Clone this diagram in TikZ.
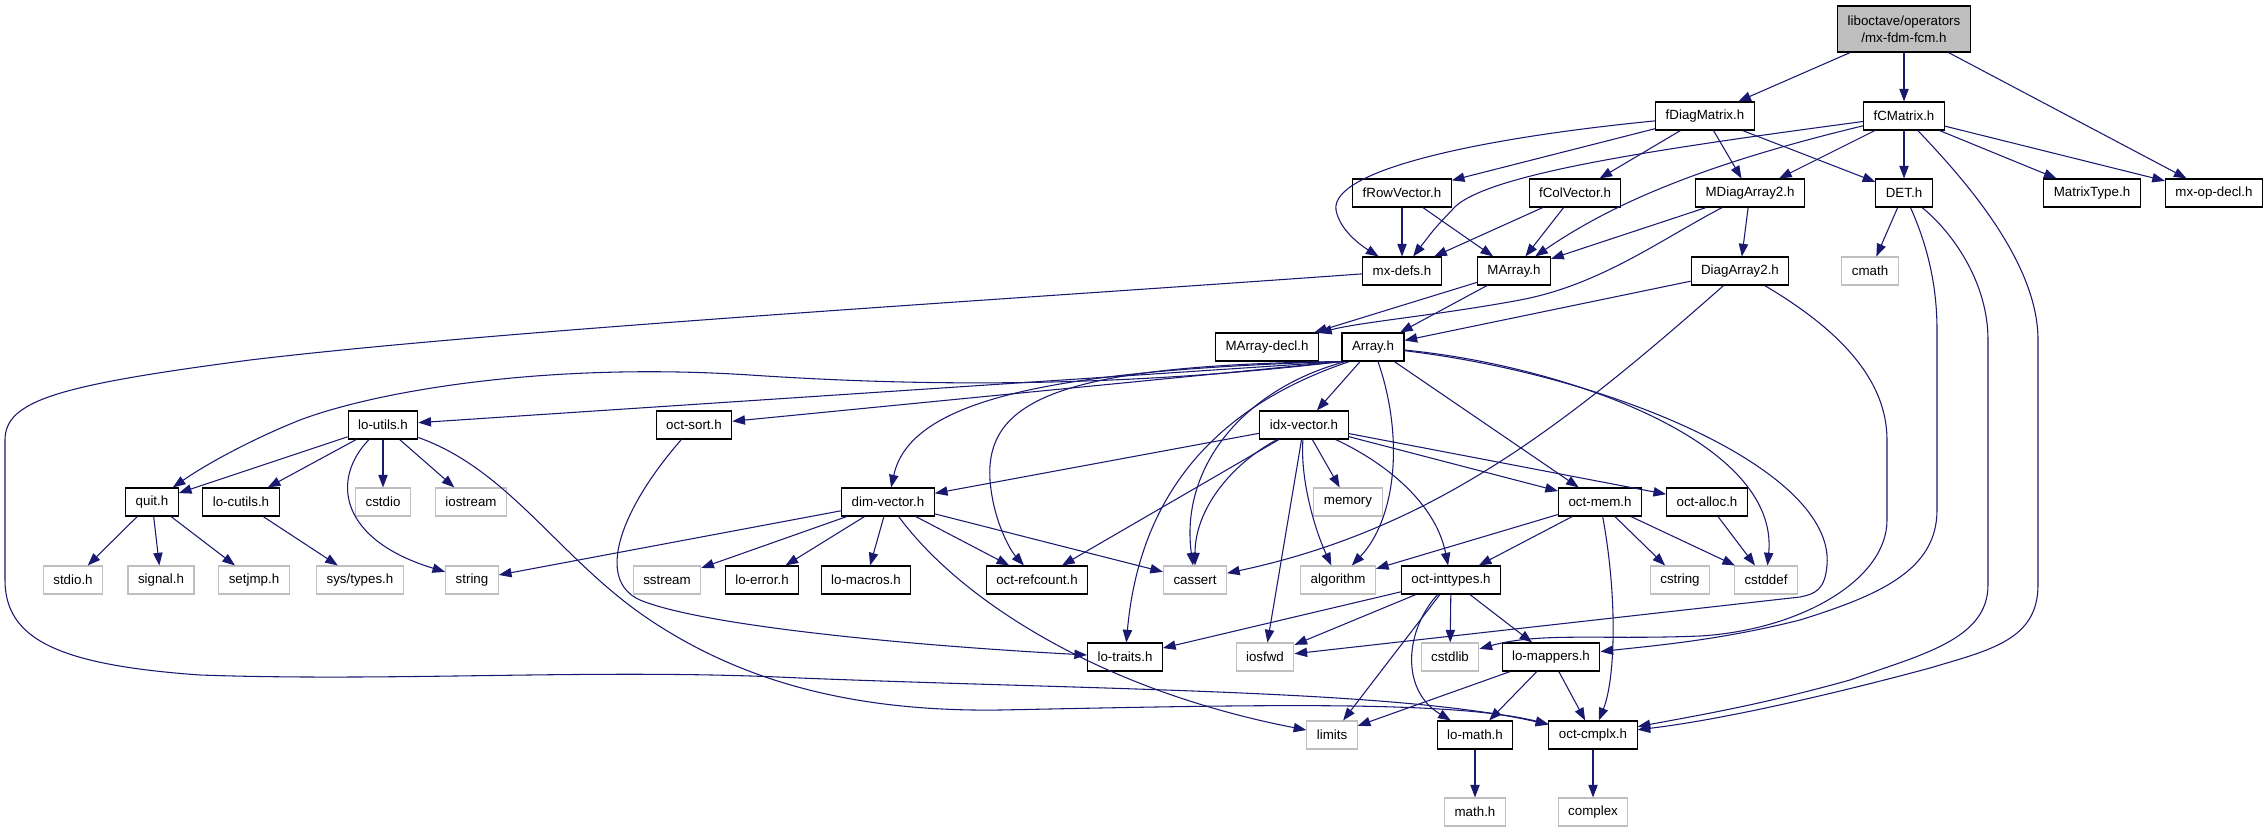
\documentclass[tikz,border=0pt]{standalone}
\usepackage{fontspec}
\setmainfont{Liberation Sans}
\usetikzlibrary{arrows.meta}
\definecolor{edgec}{HTML}{191970}
\definecolor{greyc}{HTML}{BFBFBF}
\begin{document}
\begin{tikzpicture}[x=0.75pt,y=-0.75pt,
  box/.style={draw=black, line width=0.8pt, fill=white, inner xsep=7.5pt, inner ysep=0pt,
    minimum height=21pt, font=\fontsize{10pt}{12.5pt}\selectfont},
  sys/.style={box, draw=greyc},
  e/.style={draw=edgec, line width=0.8pt, -{Triangle[length=9.5pt,width=7pt]}}]
\useasboundingbox (0,0) rectangle (2267,832);
% ---- nodes ----
\node[box, fill=greyc, align=center, minimum height=34.5pt] (root) at (1904,29) {liboctave/operators\\/mx-fdm-fcm.h};
\node[box] (fDiagMatrix) at (1705,116) {fDiagMatrix.h};
\node[box] (fCMatrix) at (1904,116) {fCMatrix.h};
\node[box] (fRowVector) at (1402,193) {fRowVector.h};
\node[box] (fColVector) at (1575,193) {fColVector.h};
\node[box] (MDiagArray2) at (1750,193) {MDiagArray2.h};
\node[box] (DET) at (1904,193) {DET.h};
\node[box] (MatrixType) at (2092,193) {MatrixType.h};
\node[box] (mxopdecl) at (2214,193) {mx-op-decl.h};
\node[box] (mxdefs) at (1402,271) {mx-defs.h};
\node[box] (MArray) at (1514,271) {MArray.h};
\node[box] (DiagArray2) at (1740,271) {DiagArray2.h};
\node[sys] (cmath) at (1870,271) {cmath};
\node[box] (MArraydecl) at (1267,347) {MArray-decl.h};
\node[box] (Array) at (1373,347) {Array.h};
\node[box] (loutils) at (383,425) {lo-utils.h};
\node[box] (octsort) at (694,425) {oct-sort.h};
\node[box] (idxvector) at (1304,425) {idx-vector.h};
\node[box] (quit) at (152,502) {quit.h};
\node[box] (locutils) at (241,502) {lo-cutils.h};
\node[sys] (cstdio) at (383,502) {cstdio};
\node[sys] (iostream) at (471,502) {iostream};
\node[box] (dimvector) at (888,502) {dim-vector.h};
\node[sys] (memory) at (1348,502) {memory};
\node[box] (octmem) at (1600,502) {oct-mem.h};
\node[box] (octalloc) at (1707,502) {oct-alloc.h};
\node[sys] (stdio) at (73,580) {stdio.h};
\node[sys] (signal) at (161,580) {signal.h};
\node[sys] (setjmp) at (254,580) {setjmp.h};
\node[sys] (systypes) at (360,580) {sys/types.h};
\node[sys] (string) at (472,580) {string};
\node[sys] (sstream) at (667,580) {sstream};
\node[box] (loerror) at (762,580) {lo-error.h};
\node[box] (lomacros) at (866,580) {lo-macros.h};
\node[box] (octrefcount) at (1037,580) {oct-refcount.h};
\node[sys] (cassert) at (1195,580) {cassert};
\node[sys] (algorithm) at (1338,580) {algorithm};
\node[box] (octinttypes) at (1451,580) {oct-inttypes.h};
\node[sys] (cstring) at (1680,580) {cstring};
\node[sys] (cstddef) at (1766,580) {cstddef};
\node[box] (lotraits) at (1125,657) {lo-traits.h};
\node[sys] (iosfwd) at (1265,657) {iosfwd};
\node[sys] (cstdlib) at (1450,657) {cstdlib};
\node[box] (lomappers) at (1551,657) {lo-mappers.h};
\node[sys] (limits) at (1332,735) {limits};
\node[box] (lomath) at (1475,735) {lo-math.h};
\node[box] (octcmplx) at (1593,735) {oct-cmplx.h};
\node[sys] (mathh) at (1475,812) {math.h};
\node[sys] (complex) at (1593,812) {complex};
% ---- edges ----
\draw[e] (root) -- (fDiagMatrix);
\draw[e] (root) -- (fCMatrix);
\draw[e] (root) -- (mxopdecl);
\draw[e] (fDiagMatrix) .. controls (1480,138) and (1330,170) .. (1336,210) .. controls (1340,232) and (1365,248) .. (mxdefs);
\draw[e] (fDiagMatrix) -- (fRowVector);
\draw[e] (fDiagMatrix) -- (fColVector);
\draw[e] (fDiagMatrix) -- (MDiagArray2);
\draw[e] (fDiagMatrix) -- (DET);
\draw[e] (fCMatrix) .. controls (1650,150) and (1480,175) .. (1452,210) .. controls (1435,228) .. (mxdefs);
\draw[e] (fCMatrix) .. controls (1700,165) and (1610,205) .. (MArray);
\draw[e] (fCMatrix) -- (MDiagArray2);
\draw[e] (fCMatrix) -- (DET);
\draw[e] (fCMatrix) -- (MatrixType);
\draw[e] (fCMatrix) -- (mxopdecl);
\draw[e] (fCMatrix) .. controls (1960,175) and (2038,260) .. (2038,340) -- (2038,585) .. controls (2038,640) and (1990,650) .. (1930,668) .. controls (1830,695) and (1720,720) .. (octcmplx);
\draw[e] (fRowVector) -- (mxdefs);
\draw[e] (fRowVector) -- (MArray);
\draw[e] (fColVector) -- (mxdefs);
\draw[e] (fColVector) -- (MArray);
\draw[e] (MDiagArray2) -- (MArray);
\draw[e] (MDiagArray2) -- (DiagArray2);
\draw[e] (MDiagArray2) .. controls (1660,240) and (1600,285) .. (1520,300) .. controls (1440,315) and (1360,322) .. (MArraydecl);
\draw[e] (DET) -- (cmath);
\draw[e] (DET) .. controls (1925,240) and (1937,280) .. (1937,330) -- (1937,510) .. controls (1937,570) and (1880,595) .. (1800,620) .. controls (1720,640) and (1660,645) .. (lomappers);
\draw[e] (DET) .. controls (1950,230) and (1988,280) .. (1988,340) -- (1988,585) .. controls (1988,640) and (1920,655) .. (1850,680) .. controls (1760,705) and (1700,715) .. (octcmplx);
\draw[e] (mxdefs) .. controls (1000,300) and (500,330) .. (250,360) .. controls (60,385) and (5,400) .. (5,440) -- (5,580) .. controls (5,640) and (60,665) .. (200,675) .. controls (400,682) and (600,668) .. (800,678) .. controls (1100,690) and (1400,690) .. (octcmplx);
\draw[e] (MArray) -- (MArraydecl);
\draw[e] (MArray) -- (Array);
\draw[e] (DiagArray2) -- (Array);
\draw[e] (DiagArray2) .. controls (1560,430) and (1430,530) .. (cassert);
\draw[e] (DiagArray2) .. controls (1840,330) and (1887,380) .. (1887,440) -- (1887,520) .. controls (1887,580) and (1800,630) .. (1700,636) .. controls (1600,640) and (1540,632) .. (cstdlib);
% Array.h
\draw[e] (Array.south west) -- (loutils);
\draw[e] (Array.south west) -- (octsort);
\draw[e] (Array) -- (idxvector);
\draw[e] (Array) -- (octmem);
\draw[e] (Array.south west) .. controls (1100,390) and (900,385) .. (750,375) .. controls (550,362) and (380,390) .. (300,420) .. controls (250,440) and (205,465) .. (quit);
\draw[e] (Array.south west) .. controls (1050,370) and (910,400) .. (dimvector);
\draw[e] (Array.south west) .. controls (1060,365) and (985,400) .. (990,480) .. controls (993,520) and (1010,550) .. (octrefcount);
\draw[e] ([xshift=3pt]Array.south west) .. controls (1240,390) and (1180,470) .. (cassert);
\draw[e] ([xshift=6pt]Array.south west) .. controls (1220,405) and (1140,490) .. (lotraits);
\draw[e] (Array) .. controls (1405,440) and (1395,520) .. (algorithm);
\draw[e] (Array) .. controls (1560,365) and (1780,440) .. (cstddef);
\draw[e] (Array) .. controls (1610,375) and (1835,470) .. (1827,565) .. controls (1825,590) and (1815,594) .. (1800,597) -- (iosfwd);
% idx-vector.h
\draw[e] (idxvector) -- (dimvector);
\draw[e] (idxvector) -- (octrefcount);
\draw[e] (idxvector) -- (iosfwd);
\draw[e] (idxvector) -- (memory);
\draw[e] (idxvector) -- (octmem);
\draw[e] (idxvector) -- (octalloc);
\draw[e] (idxvector) .. controls (1230,465) and (1195,510) .. (cassert);
\draw[e] (idxvector) .. controls (1300,480) and (1315,530) .. (algorithm);
\draw[e] (idxvector) .. controls (1380,460) and (1435,500) .. (octinttypes);
% lo-utils.h
\draw[e] (loutils) -- (quit);
\draw[e] (loutils) -- (locutils);
\draw[e] (loutils) -- (cstdio);
\draw[e] (loutils) -- (iostream);
\draw[e] (loutils) .. controls (330,480) and (340,540) .. (string);
\draw[e] (loutils) .. controls (510,470) and (560,560) .. (650,620) .. controls (740,680) and (850,712) .. (1000,710) .. controls (1250,705) and (1450,700) .. (octcmplx);
\draw[e] (quit) -- (stdio);
\draw[e] (quit) -- (signal);
\draw[e] (quit) -- (setjmp);
\draw[e] (locutils) -- (systypes);
% dim-vector.h
\draw[e] (dimvector) -- (string);
\draw[e] (dimvector) -- (sstream);
\draw[e] (dimvector) -- (loerror);
\draw[e] (dimvector) -- (lomacros);
\draw[e] (dimvector) -- (octrefcount);
\draw[e] (dimvector) -- (cassert);
\draw[e] (dimvector) .. controls (960,600) and (1100,690) .. (limits);
\draw[e] (octsort) .. controls (620,510) and (595,580) .. (640,600) .. controls (700,625) and (900,645) .. (lotraits);
% oct-mem.h
\draw[e] (octmem) -- (algorithm);
\draw[e] (octmem) -- (octinttypes);
\draw[e] (octmem) -- (cstring);
\draw[e] (octmem) -- (cstddef);
\draw[e] (octmem) .. controls (1618,600) and (1615,680) .. (octcmplx);
\draw[e] (octalloc) -- (cstddef);
% oct-inttypes.h
\draw[e] (octinttypes) -- (lotraits);
\draw[e] (octinttypes) -- (iosfwd);
\draw[e] (octinttypes) -- (limits);
\draw[e] (octinttypes) -- (cstdlib);
\draw[e] (octinttypes) -- (lomappers);
\draw[e] (octinttypes) .. controls (1405,630) and (1400,690) .. (lomath);
\draw[e] (lomappers) -- (limits);
\draw[e] (lomappers) -- (lomath);
\draw[e] (lomappers) -- (octcmplx);
\draw[e] (lomath) -- (mathh);
\draw[e] (octcmplx) -- (complex);
\end{tikzpicture}
\end{document}
